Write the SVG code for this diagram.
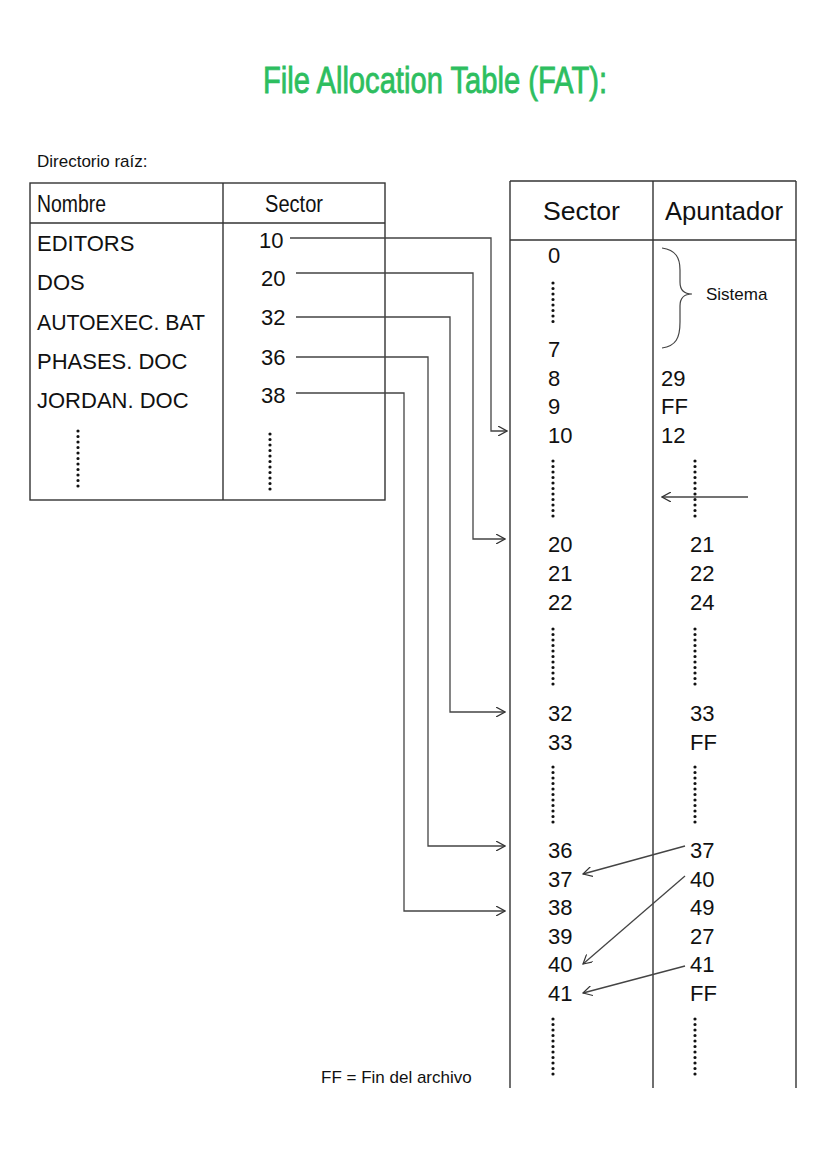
<svg xmlns="http://www.w3.org/2000/svg" width="828" height="1171" viewBox="0 0 828 1171">
<defs>
<style>
.t{font-family:"Liberation Sans",Arial,sans-serif;fill:#111;}
.h{font-size:23px;}
.n{font-size:22px;}
.s{font-size:17px;}
.box{fill:none;stroke:#333;stroke-width:1.4;}
.c{fill:none;stroke:#444;stroke-width:1.3;}
.dots{stroke:#111;stroke-width:3.2;stroke-linecap:round;stroke-dasharray:0 5.5;}
</style>
<marker id="arr" viewBox="0 0 10 10" refX="9" refY="5" markerWidth="10" markerHeight="10" markerUnits="userSpaceOnUse" orient="auto">
<path d="M0,0 L9,5 L0,10" fill="none" stroke="#333" stroke-width="1.2"/>
</marker>
</defs>
<rect width="828" height="1171" fill="#fff"/>

<g id="title">
<text x="263" y="93" textLength="344" lengthAdjust="spacingAndGlyphs" style="font-family:'Liberation Sans',Arial,sans-serif;font-size:36px;fill:#2dbe5f;stroke:#2dbe5f;stroke-width:0.8;">File Allocation Table (FAT):</text>
</g>

<g id="directorio">
<text class="t s" x="37" y="167">Directorio raíz:</text>
<rect class="box" x="30" y="183" width="355" height="317"/>
<line class="box" x1="223" y1="183" x2="223" y2="500"/>
<line class="box" x1="30" y1="223" x2="385" y2="223"/>
<text class="t h" x="37" y="212" textLength="69" lengthAdjust="spacingAndGlyphs">Nombre</text>
<text class="t h" x="265" y="212" textLength="58" lengthAdjust="spacingAndGlyphs">Sector</text>
<text class="t n" x="37" y="251">EDITORS</text>
<text class="t n" x="37" y="290">DOS</text>
<text class="t n" x="37" y="330" textLength="168" lengthAdjust="spacingAndGlyphs">AUTOEXEC. BAT</text>
<text class="t n" x="37" y="369">PHASES. DOC</text>
<text class="t n" x="37" y="408">JORDAN. DOC</text>
<text class="t n" x="259" y="248">10</text>
<text class="t n" x="261" y="286">20</text>
<text class="t n" x="261" y="325">32</text>
<text class="t n" x="261" y="365">36</text>
<text class="t n" x="261" y="403">38</text>
<line class="dots" x1="78" y1="431" x2="78" y2="491"/>
<line class="dots" x1="270" y1="434" x2="270" y2="494"/>
</g>

<g id="fat">
<line class="box" x1="510" y1="181" x2="796" y2="181"/>
<line class="box" x1="510" y1="181" x2="510" y2="1088"/>
<line class="box" x1="653" y1="181" x2="653" y2="1088"/>
<line class="box" x1="796" y1="181" x2="796" y2="1088"/>
<line class="box" x1="510" y1="240" x2="796" y2="240"/>
<text class="t" style="font-size:25px" x="543" y="220" textLength="77" lengthAdjust="spacingAndGlyphs">Sector</text>
<text class="t" style="font-size:25px" x="665" y="220" textLength="118" lengthAdjust="spacingAndGlyphs">Apuntador</text>

<text class="t n" x="548" y="263">0</text>
<line class="dots" x1="553" y1="283" x2="553" y2="323"/>
<text class="t n" x="548" y="357">7</text>
<text class="t n" x="548" y="386">8</text>
<text class="t n" x="548" y="414">9</text>
<text class="t n" x="548" y="443">10</text>
<line class="dots" x1="553" y1="461" x2="553" y2="521"/>
<text class="t n" x="548" y="552">20</text>
<text class="t n" x="548" y="581">21</text>
<text class="t n" x="548" y="610">22</text>
<line class="dots" x1="553" y1="629" x2="553" y2="689"/>
<text class="t n" x="548" y="721">32</text>
<text class="t n" x="548" y="750">33</text>
<line class="dots" x1="553" y1="767" x2="553" y2="827"/>
<text class="t n" x="548" y="858">36</text>
<text class="t n" x="548" y="887">37</text>
<text class="t n" x="548" y="915">38</text>
<text class="t n" x="548" y="944">39</text>
<text class="t n" x="548" y="972">40</text>
<text class="t n" x="548" y="1001">41</text>
<line class="dots" x1="553" y1="1019" x2="553" y2="1079"/>

<path d="M662,248 C676,250 680,258 680,270 L680,282 C680,290 684,294 692,294 C684,294 680,298 680,306 L680,322 C680,338 676,346 662,348" fill="none" stroke="#444" stroke-width="1.2"/>
<text class="t s" x="706" y="300">Sistema</text>
<text class="t n" x="661" y="386">29</text>
<text class="t n" x="661" y="414">FF</text>
<text class="t n" x="661" y="443">12</text>
<line class="dots" x1="695" y1="461" x2="695" y2="521"/>
<text class="t n" x="690" y="552">21</text>
<text class="t n" x="690" y="581">22</text>
<text class="t n" x="690" y="610">24</text>
<line class="dots" x1="695" y1="629" x2="695" y2="689"/>
<text class="t n" x="690" y="721">33</text>
<text class="t n" x="690" y="750">FF</text>
<line class="dots" x1="695" y1="767" x2="695" y2="827"/>
<text class="t n" x="690" y="858">37</text>
<text class="t n" x="690" y="887">40</text>
<text class="t n" x="690" y="915">49</text>
<text class="t n" x="690" y="944">27</text>
<text class="t n" x="690" y="972">41</text>
<text class="t n" x="690" y="1001">FF</text>
<line class="dots" x1="695" y1="1019" x2="695" y2="1079"/>
</g>

<g id="legend">
<text class="t s" x="321" y="1083">FF = Fin del archivo</text>
</g>

<g id="connectors">
<path class="c" d="M290,238 H491 V431 H507" marker-end="url(#arr)"/>
<path class="c" d="M296,273 H473 V539 H505" marker-end="url(#arr)"/>
<path class="c" d="M296,317 H450 V712 H505" marker-end="url(#arr)"/>
<path class="c" d="M296,357 H428 V846 H505" marker-end="url(#arr)"/>
<path class="c" d="M296,393 H404 V911 H505" marker-end="url(#arr)"/>
<path class="c" d="M748,497 H662" marker-end="url(#arr)"/>
<path class="c" d="M685,846 L583,874" marker-end="url(#arr)"/>
<path class="c" d="M685,876 L583,964" marker-end="url(#arr)"/>
<path class="c" d="M685,966 L583,993" marker-end="url(#arr)"/>
</g>
</svg>
